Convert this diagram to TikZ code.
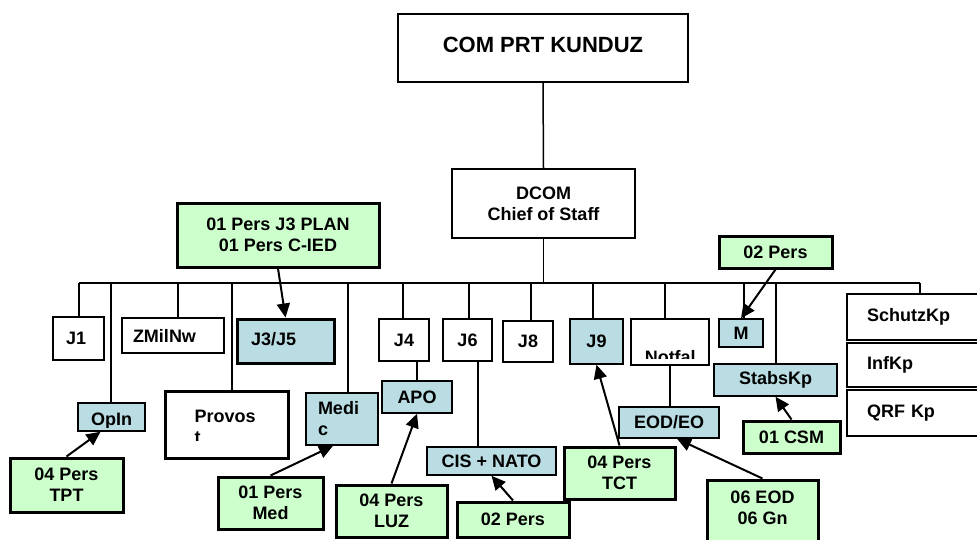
\documentclass[tikz,border=0pt]{standalone}
\usepackage{fontspec}
\setmainfont{Liberation Sans}
\usetikzlibrary{arrows.meta}
\definecolor{bluef}{RGB}{185,221,227}
\definecolor{greenf}{RGB}{204,255,204}
\newcommand\mybox[7]{%
  \pgfmathsetmacro\myCx{(#3+#5)/2}\pgfmathsetmacro\myCy{(#4+#6)/2}%
  \pgfmathsetmacro\myW{#5-#3}\pgfmathsetmacro\myH{#6-#4}%
  \node[#1, minimum width=\myW pt, minimum height=\myH pt] (#2) at (\myCx,\myCy) {#7};}
\begin{document}
\begin{tikzpicture}[x=1pt,y=-1pt,
  txt/.style={font=\fontsize{18}{21}\selectfont\bfseries},
  intxt/.style={txt, draw=none, fill=none, inner sep=0pt, minimum width=0pt, minimum height=0pt, text width=, align=left, path picture={}},
  bxbase/.style={draw=black, line width=1.5pt, inner sep=0pt, align=center, txt},
  wbox/.style={bxbase, fill=white},
  bbox/.style={bxbase, fill=bluef},
  gbox/.style={bxbase, fill=greenf, line width=3pt},
  conn/.style={line width=1.5pt},
  arr/.style={line width=2pt, -{Triangle[length=14pt,width=13pt]}},
]
\useasboundingbox (0,0) rectangle (977,539);
% top
\mybox{wbox, text depth=6pt}{com}{398}{14}{688}{82}{\fontsize{22}{26}\selectfont COM PRT KUNDUZ}
\mybox{wbox}{dcom}{452}{169}{635}{238}{DCOM\\Chief of Staff}
\mybox{gbox}{plan}{177}{203}{379}{267}{01 Pers J3 PLAN\\01 Pers C-IED}
% row 1
\mybox{wbox, text width=25pt, align=left}{j1}{53}{317}{104}{360}{J1}
\mybox{wbox, text width=80pt, align=left}{zmil}{122}{318}{224}{353}{ZMilNw}
\mybox{bbox, line width=3pt, text width=69pt, align=left, text depth=4pt}{j35}{237}{319}{334}{363}{J3/J5}
\mybox{wbox}{j4}{379}{319}{429}{361}{J4}
\mybox{wbox}{j6}{443}{319}{492}{361}{J6}
\mybox{wbox}{j8}{503}{321}{553}{362}{J8}
\mybox{bbox}{j9}{570}{319}{623}{364}{J9}
\mybox{wbox, path picture={%
   \clip (path picture bounding box.north west) rectangle ([yshift=7pt]path picture bounding box.south east);
   \node[intxt, anchor=base west] at ([xshift=13pt,yshift=2pt]path picture bounding box.south west) {Notfal};}}{notf}{631}{319}{709}{365}{}
\mybox{bbox}{m}{719}{319}{763}{347}{M}
\mybox{wbox, text width=103pt, align=left}{schutz}{847}{294}{990}{340}{SchutzKp}
\mybox{wbox, text width=103pt, align=left}{inf}{847}{343}{990}{387}{InfKp}
\mybox{wbox, text width=103pt, align=left}{qrf}{847}{390}{990}{436}{QRF Kp}
% row 2
\mybox{bbox, path picture={%
   \clip (path picture bounding box.north west) rectangle ([yshift=4pt]path picture bounding box.south east);
   \node[intxt, anchor=base] at ([yshift=6pt]path picture bounding box.south) {OpIn};}}{opin}{78}{403}{145}{431}{}
\mybox{wbox, line width=3pt, path picture={%
   \clip (path picture bounding box.north west) rectangle ([yshift=-49pt]path picture bounding box.north east);
   \node[intxt, anchor=base west] at ([xshift=28pt,yshift=-31pt]path picture bounding box.north west) {Provos};
   \node[intxt, anchor=base west] at ([xshift=28pt,yshift=-52pt]path picture bounding box.north west) {t};}}{prov}{165}{391}{288}{458}{}
\mybox{bbox, text width=48pt, align=left}{medic}{306}{393}{378}{445}{Medi\\c}
\mybox{bbox}{apo}{382}{381}{452}{413}{APO}
\mybox{bbox}{cis}{427}{447}{556}{475}{CIS + NATO}
\mybox{bbox}{eod}{619}{407}{719}{438}{EOD/EO}
\mybox{bbox}{stabs}{714}{364}{837}{396}{StabsKp}
% green
\mybox{gbox}{tpt}{10}{458}{123}{512}{04 Pers\\TPT}
\mybox{gbox}{med}{218}{477}{323}{529}{01 Pers\\Med}
\mybox{gbox}{luz}{336}{485}{447}{537}{04 Pers\\LUZ}
\mybox{gbox}{ptwob}{457}{502}{569}{537}{02 Pers}
\mybox{gbox}{tct}{564}{447}{675}{499}{04 Pers\\TCT}
\mybox{gbox, text depth=9pt}{eodsix}{707}{480}{818}{545}{06 EOD\\06 Gn}
\mybox{gbox}{ptwot}{719}{236}{832}{268}{02 Pers}
\mybox{gbox}{csm}{743}{421}{840}{453}{01 CSM}
% connectors
\draw[conn] (com.south) -- (dcom.north);
\coordinate (busL) at (79,283);
\coordinate (busR) at (920,283);
\draw[conn] (dcom.south) -- (dcom.south |- busL);
\draw[conn] (busL) -- (busR);
\foreach \n/\x in {j1/79, opin/111, zmil/178, prov/232, medic/348, j4/403, j6/469, j8/531, j9/593, notf/665, m/744, stabs/776, schutz/920} {
  \coordinate (d\n) at (\x,283);
  \draw[conn] (d\n) -- (d\n |- \n.north);
}
\draw[conn] (apo.north) -- (apo.north |- j4.south);
\coordinate (jsixc) at (478,0);
\draw[conn] (jsixc |- j6.south) -- (jsixc |- cis.north);
\draw[conn] (notf.south) -- (notf.south |- eod.north);
% arrows
\draw[arr] (plan.south) -- (j35.north);
\draw[arr] (tpt.north) -- ([xshift=-11pt]opin.south);
\draw[arr] (med.north) -- ([xshift=-9pt]medic.south);
\draw[arr] (luz.north) -- (apo.south);
\draw[arr] (ptwob.north) -- (cis.south);
\draw[arr] (tct.north) -- (j9.south);
\draw[arr] (eodsix.north) -- ([xshift=8pt]eod.south);
\draw[arr] (ptwot.south) -- (m.north);
\draw[arr] (csm.north) -- (stabs.south);
\end{tikzpicture}
\end{document}
